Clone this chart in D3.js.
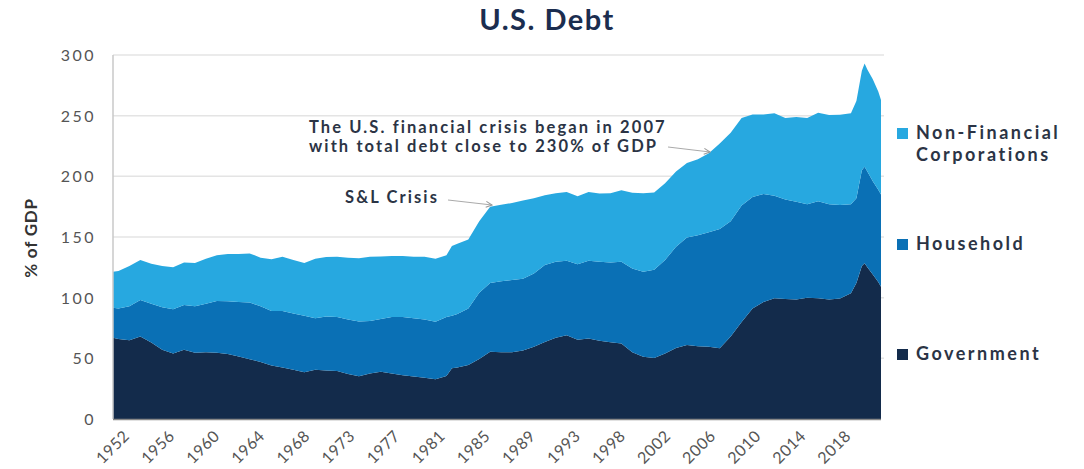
<!doctype html>
<html lang="en">
<head>
    <meta charset="utf-8"/>
    <title>U.S. Debt</title>
    <script src="https://d3js.org/d3.v7.min.js"></script>
    <style>
        body {
            margin: 0;
            padding: 0;
            background: #fff;
        }

        svg text {
            font-family: Lato, 'Open Sans', sans-serif;
        }
    </style>
</head>
<body>
<script>

    // years (decimal) of each reading
    const years = [1951.5, 1952, 1953, 1954, 1955, 1956, 1957, 1958, 1959, 1960,
        1961, 1962, 1963, 1964, 1965, 1966, 1967, 1968, 1969, 1970,
        1971, 1972, 1973, 1974, 1975, 1976, 1977, 1978, 1979, 1980,
        1981, 1982, 1982.5, 1983, 1984, 1985, 1986, 1987, 1988, 1989, 1990,
        1991, 1992, 1993, 1994, 1995, 1996, 1997, 1998, 1999, 2000,
        2001, 2002, 2003, 2004, 2005, 2006, 2007, 2008, 2009, 2010,
        2011, 2012, 2013, 2014, 2015, 2016, 2017, 2018, 2019, 2019.5,
        2020, 2020.25, 2020.5, 2021, 2021.5, 2021.75]

    // % of GDP, by sector
    const government = [67, 66, 65, 68, 63, 57, 54, 57, 54.5, 55,
        54.7, 53.5, 51.5, 49.2, 47, 44, 42.5, 40.5, 38.5, 40.5,
        40, 39.5, 37, 35.3, 37.6, 39, 37.5, 36, 35, 34,
        32.7, 35.5, 41.8, 42.5, 44.5, 49.5, 55.5, 55, 55, 56.5, 59.5,
        63.5, 67, 69, 65.3, 66.3, 64.5, 63.3, 62.3, 55, 51.3,
        50.3, 54, 58.5, 61, 60, 59.5, 58.3, 68, 80, 91,
        96.5, 99.5, 98.8, 98.5, 100, 99.5, 98.5, 99.3, 103.6, 112,
        126, 128.3, 125, 119, 113, 109]

    const household = [24.7, 25, 28, 30, 32, 35, 36.5, 37, 38.5, 40,
        42.6, 43.5, 45, 46.8, 46, 45, 46.5, 46.5, 46.5, 42.5,
        44.5, 44.5, 45, 45, 43.2, 43.5, 46.5, 48, 48, 48,
        47.5, 48.5, 43.2, 44, 46.5, 54.5, 56.5, 58.5, 59.5, 59, 60.5,
        63.5, 62.5, 61.5, 62.2, 64.2, 65, 65.7, 67.2, 69, 70.1,
        72.7, 77, 83.5, 88.5, 91.5, 94.5, 98.2, 95, 96, 92,
        88.9, 84.5, 82.2, 80.5, 77, 80, 78.5, 77.1, 73.4, 70,
        79, 79.7, 79, 77, 76, 76]

    const corporations = [29.7, 31, 33, 33, 33, 34, 34.5, 35, 35.5, 37,
        37.7, 39, 39.5, 40.5, 40, 42.7, 44.7, 44, 43.5, 49,
        49, 49.8, 51, 52.1, 53, 51.5, 50.3, 50.3, 50.8, 51.8,
        51.8, 51, 57.6, 58, 57, 59, 63, 63, 63.5, 64.5, 62,
        57.5, 56.5, 56.5, 56, 56.5, 56.3, 57, 59, 62.5, 64.6,
        63.7, 63.3, 62, 61.5, 62.5, 65, 70.5, 73, 72, 68,
        65.6, 68, 67, 70, 71, 73, 73.6, 74.4, 75, 80,
        82, 85, 84, 84, 81, 78]

    const tickLabels = ['1952', '1956', '1960', '1964', '1968', '1973', '1977', '1981', '1985',
        '1989', '1993', '1998', '2002', '2006', '2010', '2014', '2018']
    const tickStep = 4.125 // the labels sit every 16.5 quarters

    const yTicks = [0, 50, 100, 150, 200, 250, 300]

    const colors = ['#132b4b', '#0a70b5', '#27a8e0']

    // table for d3.stack
    const table = years.map(function (yr, i) {
        return {year: yr, gov: government[i], hh: household[i], corp: corporations[i]}
    })

    const width = 1084, height = 469
    const plotLeft = 113, plotRight = 881, plotTop = 55, plotBottom = 419

    const svg = d3.select('body').append('svg')
        .attr('width', width)
        .attr('height', height)

    const x = d3.scaleLinear().domain([1951.5, 2021.75]).range([plotLeft, plotRight])
    const y = d3.scaleLinear().domain([0, 300]).range([plotBottom, plotTop])

    // gridlines
    svg.append('g')
        .selectAll('line')
        .data(yTicks.slice(1))
        .enter()
        .append('line')
        .attr('x1', plotLeft).attr('x2', plotRight + 3)
        .attr('y1', d => y(d)).attr('y2', d => y(d))
        .attr('stroke', '#e4e4e4')
        .attr('stroke-width', 1.5)

    const stack = d3.stack().keys(['gov', 'hh', 'corp'])
    const layers = stack(table)

    const area = d3.area()
        .x(d => x(d.data.year))
        .y0(d => y(d[0]))
        .y1(d => y(d[1]))

    svg.append('g')
        .selectAll('path')
        .data(layers)
        .enter()
        .append('path')
        .attr('d', area)
        .attr('fill', (d, i) => colors[i])

    // axis lines
    svg.append('line')
        .attr('x1', plotLeft).attr('x2', plotLeft)
        .attr('y1', plotTop).attr('y2', plotBottom)
        .attr('stroke', '#c8c8c8').attr('stroke-width', 1.5)
    svg.append('line')
        .attr('x1', plotLeft).attr('x2', plotRight)
        .attr('y1', plotBottom + 0.5).attr('y2', plotBottom + 0.5)
        .attr('stroke', '#888').attr('stroke-width', 1.5)

    // y tick labels
    svg.append('g')
        .selectAll('text')
        .data(yTicks)
        .enter()
        .append('text')
        .attr('x', 96)
        .attr('y', d => y(d) + 6)
        .attr('text-anchor', 'end')
        .attr('fill', '#555')
        .style('font-size', '16px')
        .style('letter-spacing', '2.5px')
        .text(d => d)

    // x tick labels
    svg.append('g')
        .selectAll('text')
        .data(tickLabels)
        .enter()
        .append('text')
        .attr('transform', (d, i) => 'translate(' + (x(1952 + i * tickStep) + 12) + ',' + 437 + ') rotate(-45)')
        .attr('text-anchor', 'end')
        .attr('fill', '#555')
        .style('font-size', '16px')
        .style('letter-spacing', '0.5px')
        .text(d => d)

    // y axis title
    svg.append('text')
        .attr('transform', 'translate(37,238) rotate(-90)')
        .attr('text-anchor', 'middle')
        .attr('fill', '#333')
        .style('font-size', '17px')
        .style('font-weight', 'bold')
        .style('letter-spacing', '0.8px')
        .text('% of GDP')

    // title
    svg.append('text')
        .attr('x', 547).attr('y', 30)
        .attr('text-anchor', 'middle')
        .attr('fill', '#1b2d4f')
        .style('font-size', '29px')
        .style('font-weight', 'bold')
        .style('letter-spacing', '1.5px')
        .text('U.S. Debt')

    // legend
    const legendRows = [
        {lines: ['Non-Financial', 'Corporations'], y: 133, color: colors[2]},
        {lines: ['Household'], y: 244, color: colors[1]},
        {lines: ['Government'], y: 354, color: colors[0]}
    ]
    const legend = svg.append('g')
    legendRows.forEach(function (r) {
        legend.append('rect')
            .attr('x', 897).attr('y', r.y - 5)
            .attr('width', 11).attr('height', 11)
            .attr('fill', r.color)
        r.lines.forEach(function (l, j) {
            legend.append('text')
                .attr('x', 916)
                .attr('y', r.y + 6 + j * 22)
                .attr('fill', '#2b3445')
                .style('font-size', '18px')
                .style('font-weight', 'bold')
                .style('letter-spacing', '2.5px')
                .text(l)
        })
    })

    // annotations
    svg.append('defs').append('marker')
        .attr('id', 'arrow')
        .attr('viewBox', '0 0 8 8')
        .attr('refX', 7).attr('refY', 4)
        .attr('markerWidth', 8).attr('markerHeight', 8)
        .attr('orient', 'auto')
        .append('path')
        .attr('d', 'M1,1 L7,4 L1,7')
        .attr('fill', 'none')
        .attr('stroke', '#999')
        .attr('stroke-width', 1)

    const notes = [
        {lines: ['The U.S. financial crisis began in 2007', 'with total debt close to 230% of GDP'], x: 309, y: 133,
            from: [668, 147], to: [710, 152]},
        {lines: ['S&L Crisis'], x: 345, y: 203, from: [448, 200], to: [492, 205]}
    ]
    notes.forEach(function (n) {
        n.lines.forEach(function (l, j) {
            svg.append('text')
                .attr('x', n.x)
                .attr('y', n.y + j * 19)
                .attr('fill', '#2b3445')
                .style('font-size', '16.5px')
                .style('font-weight', 'bold')
                .style('letter-spacing', '2.1px')
                .text(l)
        })
        svg.append('line')
            .attr('x1', n.from[0]).attr('y1', n.from[1])
            .attr('x2', n.to[0]).attr('y2', n.to[1])
            .attr('stroke', '#aaa')
            .attr('stroke-width', 1)
            .attr('marker-end', 'url(#arrow)')
    })

</script>
</body>
</html>
